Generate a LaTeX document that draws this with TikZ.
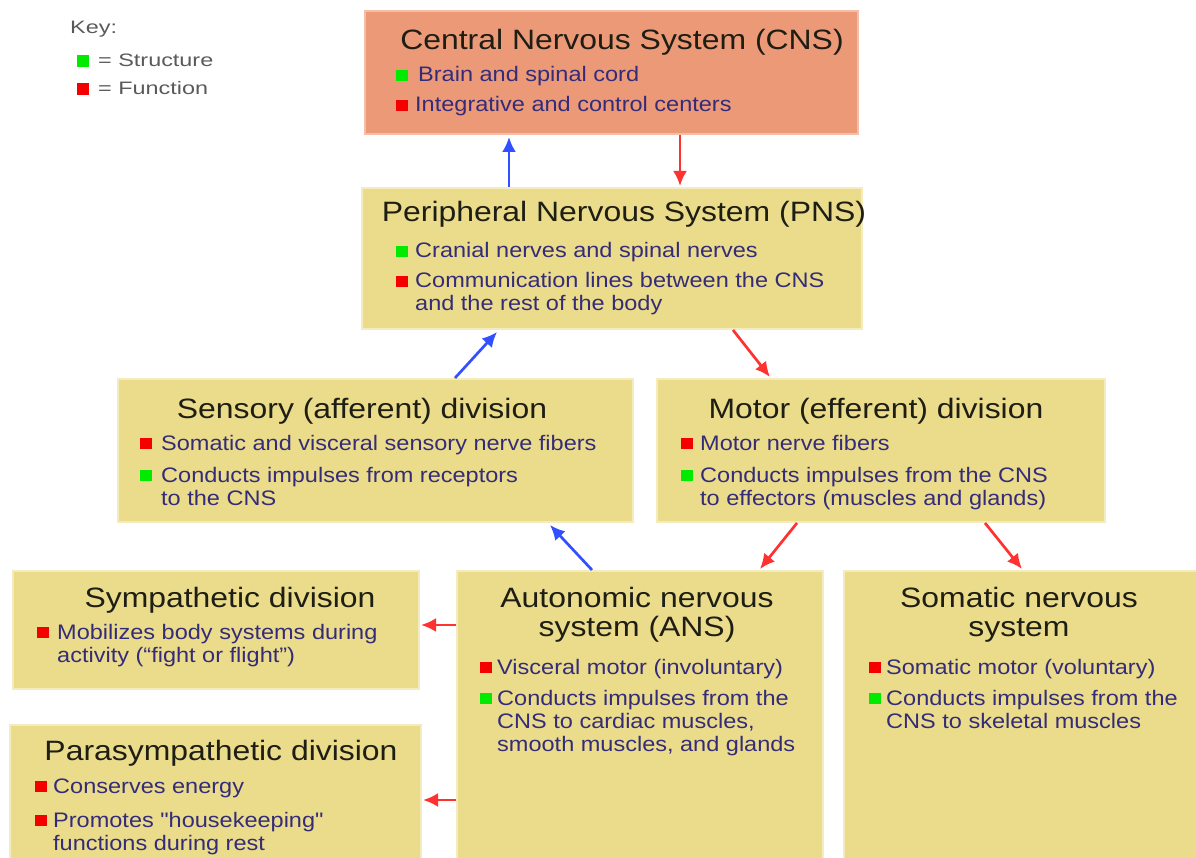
\documentclass[tikz,border=0pt]{standalone}
\usepackage{fontspec}
\setmainfont{Liberation Sans}
\newfontfamily\widefam[FakeStretch=1.14]{Liberation Sans}
\newfontfamily\bulfam[FakeStretch=1.12]{Liberation Sans}
\newfontfamily\keyfam[FakeStretch=1.3]{Liberation Sans}
\usetikzlibrary{arrows.meta,calc}
\definecolor{salmon}{RGB}{236,153,120}
\definecolor{khaki}{RGB}{235,220,140}
\definecolor{khakiedge}{RGB}{244,236,190}
\definecolor{salmonedge}{RGB}{244,190,168}
\definecolor{bultext}{RGB}{52,44,120}
\definecolor{titletext}{RGB}{30,30,20}
\definecolor{sqgreen}{RGB}{0,235,0}
\definecolor{sqred}{RGB}{245,0,0}
\definecolor{arrblue}{RGB}{50,80,255}
\definecolor{arrred}{RGB}{255,50,50}
\definecolor{keygray}{RGB}{90,90,90}
\newcommand\ml[1]{\begin{tabular}[t]{@{}l@{}}#1\end{tabular}}
\newcommand\mc[1]{\begin{tabular}[t]{@{}c@{}}#1\end{tabular}}
\tikzset{
  box/.style={rectangle, anchor=north west, inner sep=0pt, line width=2pt},
  ybox/.style={box, fill=khaki, draw=khakiedge},
  title/.style={anchor=base, inner sep=0pt, text=titletext, font=\widefam\fontsize{28}{30}\selectfont},
  bul/.style={anchor=base west, inner sep=0pt, text=bultext, font=\bulfam\fontsize{21}{23}\selectfont},
  keytxt/.style={anchor=base west, inner sep=0pt, text=keygray, font=\keyfam\fontsize{18}{20}\selectfont},
  arr/.style={line width=2.7pt, -{Latex[length=15pt,width=14pt]}},
}
\newcommand\sq[3]{\fill[#1] (#2,#3-12) rectangle (#2+12,#3-1);}
\begin{document}
\begin{tikzpicture}[x=1pt,y=-1pt]
\useasboundingbox (0,0) rectangle (1196,858);
\begin{scope}
\clip (0,0) rectangle (1196,858);
% key
\node[keytxt] (keyt) at (70,34) {Key:};
\fill[sqgreen] (77,55) rectangle (89,67);
\node[keytxt] (keys) at (98,67) {= Structure};
\fill[sqred] (77,83) rectangle (89,95);
\node[keytxt] (keyf) at (98,95) {= Function};

% boxes
\node[box, fill=salmon, draw=salmonedge, minimum width=493pt, minimum height=123pt] (cns) at (364,10) {};
\node[ybox, minimum width=500pt, minimum height=141pt] (pns) at (361,187) {};
\node[ybox, minimum width=515pt, minimum height=143pt] (sens) at (117,378) {};
\node[ybox, minimum width=448pt, minimum height=143pt] (mot) at (656,378) {};
\node[ybox, minimum width=406pt, minimum height=118pt] (symp) at (12,570) {};
\node[ybox, minimum width=411pt, minimum height=150pt] (para) at (9,724) {};
\node[ybox, minimum width=366pt, minimum height=300pt] (ans) at (456,570) {};
\node[ybox, minimum width=360pt, minimum height=300pt] (som) at (843,570) {};

% CNS
\node[title] (cnst) at (622,50) {Central Nervous System (CNS)};
\sq{sqgreen}{396}{82}
\node[bul] (cnsb1) at (418,82) {Brain and spinal cord};
\sq{sqred}{396}{112}
\node[bul] (cnsb2) at (415,112) {Integrative and control centers};

% PNS
\node[title] (pnst) at (624,222) {Peripheral Nervous System (PNS)};
\sq{sqgreen}{396}{258}
\node[bul] (pnsb1) at (415,258) {Cranial nerves and spinal nerves};
\sq{sqred}{396}{288}
\node[bul] (pnsb2) at (415,288) {\ml{Communication lines between the CNS\\and the rest of the body}};

% Sensory
\node[title] (senst) at (362,418) {Sensory (afferent) division};
\sq{sqred}{140}{450}
\node[bul] (sensb1) at (161,450) {Somatic and visceral sensory nerve fibers};
\sq{sqgreen}{140}{482}
\node[bul] (sensb2) at (161,482) {\ml{Conducts impulses from receptors\\to the CNS}};

% Motor
\node[title] (mott) at (876,418) {Motor (efferent) division};
\sq{sqred}{681}{450}
\node[bul] (motb1) at (700,450) {Motor nerve fibers};
\sq{sqgreen}{681}{482}
\node[bul] (motb2) at (700,482) {\ml{Conducts impulses from the CNS\\to effectors (muscles and glands)}};

% Sympathetic
\node[title] (sympt) at (230,607) {Sympathetic division};
\sq{sqred}{37}{639}
\node[bul] (sympb1) at (57,639) {\ml{Mobilizes body systems during\\activity (“fight or flight”)}};

% Parasympathetic
\node[title] (parat) at (221,760) {Parasympathetic division};
\sq{sqred}{35}{793}
\node[bul] (parab1) at (53,793) {Conserves energy};
\sq{sqred}{35}{827}
\node[bul] (parab2) at (53,827) {\ml{Promotes "housekeeping"\\functions during rest}};

% ANS
\node[title] (anst) at (637,607) {\mc{Autonomic nervous\\[-1pt]system (ANS)}};
\sq{sqred}{480}{674}
\node[bul] (ansb1) at (497,674) {Visceral motor (involuntary)};
\sq{sqgreen}{480}{705}
\node[bul] (ansb2) at (497,705) {\ml{Conducts impulses from the\\CNS to cardiac muscles,\\smooth muscles, and glands}};

% Somatic
\node[title] (somt) at (1019,607) {\mc{Somatic nervous\\[-1pt]system}};
\sq{sqred}{869}{674}
\node[bul] (somb1) at (886,674) {Somatic motor (voluntary)};
\sq{sqgreen}{869}{705}
\node[bul] (somb2) at (886,705) {\ml{Conducts impulses from the\\CNS to skeletal muscles}};
\end{scope}

% arrows
\draw[arr, arrblue] ($(pns.north west)+(148,0)$) -- ($(cns.south west)+(145,2)$);
\draw[arr, arrred] ($(cns.south west)+(316,0)$) -- ($(pns.north west)+(319,-1)$);
\draw[arr, arrblue] ($(sens.north west)+(338,0)$) -- ($(pns.south west)+(136,2)$);
\draw[arr, arrred] ($(pns.south west)+(372,0)$) -- ($(mot.north west)+(114,-1)$);
\draw[arr, arrblue] ($(ans.north west)+(136,0)$) -- ($(sens.south west)+(433,2)$);
\draw[arr, arrred] ($(mot.south west)+(141,0)$) -- ($(ans.north west)+(304,-1)$);
\draw[arr, arrred] ($(mot.south west)+(329,0)$) -- ($(som.north west)+(179,-1)$);
\draw[arr, arrred] ($(ans.north west)+(0,55)$) -- ($(symp.north east)+(1,55)$);
\draw[arr, arrred] ($(ans.north west)+(0,230)$) -- ($(para.north east)+(1,76)$);
\end{tikzpicture}
\end{document}
